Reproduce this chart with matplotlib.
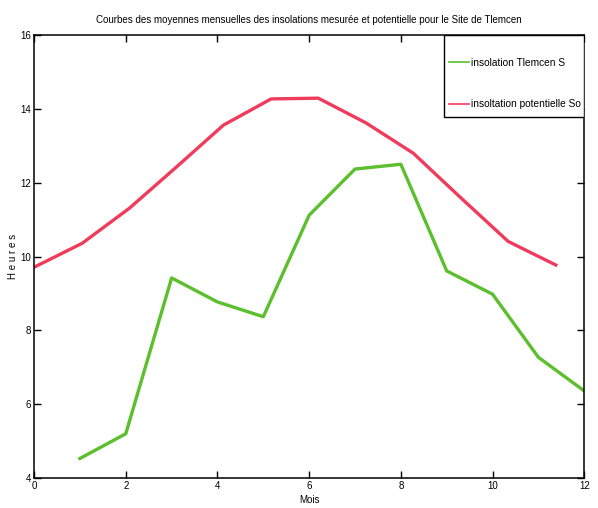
import numpy as np
import matplotlib.pyplot as plt
from matplotlib.lines import Line2D
from matplotlib.patches import Rectangle

# Moyennes mensuelles (heures)
mois_s = [1, 2, 3, 4, 5, 6, 7, 8, 9, 10, 11, 12]
insolation_s = [4.53, 5.2, 9.42, 8.77, 8.37, 11.12, 12.37, 12.5, 9.61, 8.98, 7.27, 6.36]

mois_so = [0, 1.05, 2.08, 3.1, 4.13, 5.17, 6.2, 7.24, 8.27, 9.3, 10.34, 11.38]
insolation_so = [9.71, 10.36, 11.31, 12.42, 13.56, 14.27, 14.29, 13.62, 12.8, 11.6, 10.41, 9.77]

labels = ['insolation Tlemcen S', 'insoltation potentielle So']
couleurs = ['#5cbf2e', '#ef3c5c']

plt.rcParams['font.family'] = ['Liberation Sans Narrow', 'Liberation Sans', 'DejaVu Sans']

fig = plt.figure(figsize=(5.98, 5.08), dpi=100)
ax = fig.add_axes([0.057, 0.059, 0.92, 0.872])

ax.plot(mois_s, insolation_s, color=couleurs[0], lw=2.4)
ax.plot(mois_so, insolation_so, color=couleurs[1], lw=2.4)

ax.set_xlim(0, 12)
ax.set_ylim(4, 16)
ax.set_xticks(np.arange(0, 13, 2))
ax.set_yticks(np.arange(4, 17, 2))
ax.tick_params(direction='in', length=5, width=1, labelsize=7,
               top=True, right=True, pad=2)
for s in ax.spines.values():
    s.set_linewidth(1.1)

ax.set_title('Courbes des moyennes mensuelles des insolations mesurée et potentielle pour le Site de Tlemcen',
             fontsize=7, pad=9)
ax.set_xlabel('Mois', fontsize=7, labelpad=3)
ax.set_ylabel('H e u r e s', fontsize=7)
ax.yaxis.set_label_coords(-0.03, 0.5)

# cadre de la legende (style matlab, plus d'espace en haut)
ax.add_patch(Rectangle((0.745, 0.815), 0.255, 0.185, transform=ax.transAxes,
                       facecolor='white', edgecolor='black', lw=1, zorder=4))
handles = [Line2D([], [], color=c, lw=1.2) for c in couleurs]
leg = ax.legend(handles, labels, loc='center left', bbox_to_anchor=(0.754, 0.8905),
                borderaxespad=0, borderpad=0, frameon=False,
                fontsize=7.3, labelspacing=3.1, handlelength=2.0, handletextpad=0.2)
leg.set_zorder(5)

fig.savefig('out.png', dpi=100)
